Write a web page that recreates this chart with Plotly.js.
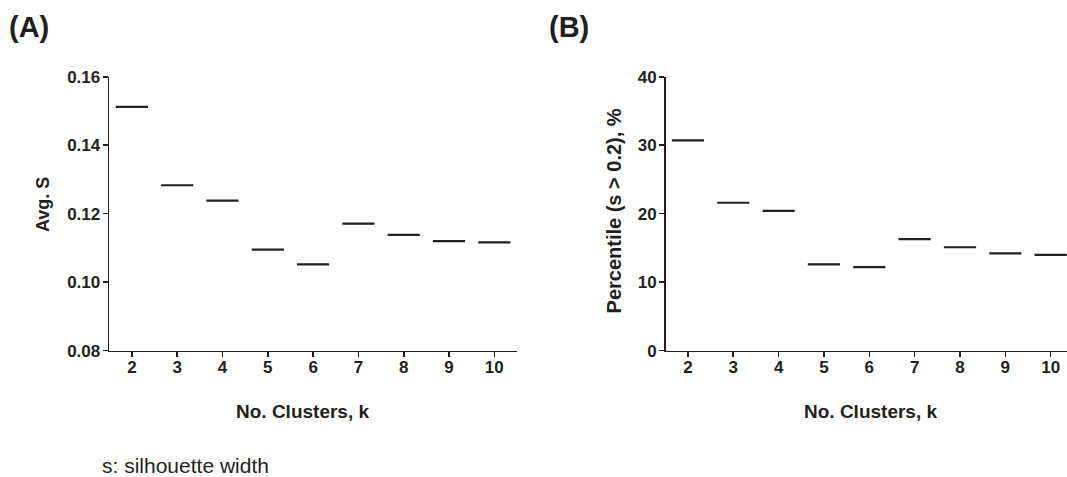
<!DOCTYPE html>
<html>
<head>
<meta charset="utf-8">
<script src="https://cdn.plot.ly/plotly-3.0.1.min.js"></script>
<style>html,body{margin:0;padding:0;background:#fff;}#chart{width:1067px;height:477px;}</style>
</head>
<body>
<div id="chart"></div>
<script>
var clusters = [2, 3, 4, 5, 6, 7, 8, 9, 10];
var avgS = [0.1512, 0.1283, 0.1238, 0.1095, 0.1052, 0.1171, 0.1138, 0.1120, 0.1116];
var percentile = [30.7, 21.6, 20.4, 12.6, 12.2, 16.3, 15.1, 14.2, 14.0];
var xTitle = 'No. Clusters, k';
var yTitleA = 'Avg. S';
var yTitleB = 'Percentile (s &gt; 0.2), %';
var footnote = 's: silhouette width';

var ink = '#231f20';
var fam = 'Liberation Sans, Arial, sans-serif';

function markTrace(y, xa, ya) {
  return {
    x: clusters, y: y, xaxis: xa, yaxis: ya, type: 'scatter', mode: 'markers',
    marker: {symbol: 'line-ew', size: 23, color: ink, line: {color: ink, width: 2.2}},
    showlegend: false, hoverinfo: 'x+y'
  };
}

var xCommon = {
  tickmode: 'array', tickvals: clusters, ticktext: clusters.map(String),
  showline: true, linecolor: ink, linewidth: 1.6, ticks: 'outside', ticklen: 5, tickwidth: 1.6,
  tickcolor: ink, showgrid: false, zeroline: false, ticklabelstandoff: -5,
  tickfont: {family: fam, size: 17, color: ink, weight: 'bold'}
};
var yCommon = {
  showline: true, linecolor: ink, linewidth: 1.6, ticks: 'outside', ticklen: 5, tickwidth: 1.6,
  tickcolor: ink, showgrid: false, zeroline: false, ticklabelstandoff: -1,
  tickfont: {family: fam, size: 17, color: ink, weight: 'bold'}
};

var layout = {
  width: 1067, height: 477,
  margin: {l: 0, r: 0, t: 0, b: 0},
  paper_bgcolor: '#fff', plot_bgcolor: '#fff',
  font: {family: fam, color: ink},
  xaxis: Object.assign({}, xCommon, {domain: [0.1024, 0.4845], range: [1.5, 10.5], anchor: 'y'}),
  yaxis: Object.assign({}, yCommon, {domain: [0.2648, 0.8392], range: [0.08, 0.16], dtick: 0.02, tick0: 0.08, tickformat: '.2f', anchor: 'x'}),
  xaxis2: Object.assign({}, xCommon, {domain: [0.6239, 1.0], range: [1.51, 10.36], anchor: 'y2'}),
  yaxis2: Object.assign({}, yCommon, {domain: [0.2648, 0.8392], range: [0, 40], dtick: 10, tick0: 0, anchor: 'x2'}),
  annotations: [
    {text: '(A)', xref: 'paper', yref: 'paper', x: 0.0066, y: 0.9434, xanchor: 'left', yanchor: 'middle', showarrow: false, font: {family: fam, size: 29, color: ink, weight: 'bold'}},
    {text: '(B)', xref: 'paper', yref: 'paper', x: 0.5124, y: 0.9434, xanchor: 'left', yanchor: 'middle', showarrow: false, font: {family: fam, size: 29, color: ink, weight: 'bold'}},
    {text: yTitleA, xref: 'paper', yref: 'paper', x: 0.0403, y: 0.5702, xanchor: 'center', yanchor: 'middle', textangle: -90, showarrow: false, font: {family: fam, size: 18, color: ink, weight: 'bold'}},
    {text: yTitleB, xref: 'paper', yref: 'paper', x: 0.5754, y: 0.5587, xanchor: 'center', yanchor: 'middle', textangle: -90, showarrow: false, font: {family: fam, size: 20, color: ink, weight: 'bold'}},
    {text: xTitle, xref: 'paper', yref: 'paper', x: 0.2835, y: 0.1369, xanchor: 'center', yanchor: 'middle', showarrow: false, font: {family: fam, size: 19, color: ink, weight: 'bold'}},
    {text: xTitle, xref: 'paper', yref: 'paper', x: 0.8154, y: 0.1369, xanchor: 'center', yanchor: 'middle', showarrow: false, font: {family: fam, size: 19, color: ink, weight: 'bold'}},
    {text: footnote, xref: 'paper', yref: 'paper', x: 0.0937, y: 0.0231, xanchor: 'left', yanchor: 'middle', showarrow: false, font: {family: fam, size: 21, color: ink}}
  ]
};

Plotly.newPlot('chart', [markTrace(avgS, 'x', 'y'), markTrace(percentile, 'x2', 'y2')], layout, {displayModeBar: false, staticPlot: true});
</script>
</body>
</html>
